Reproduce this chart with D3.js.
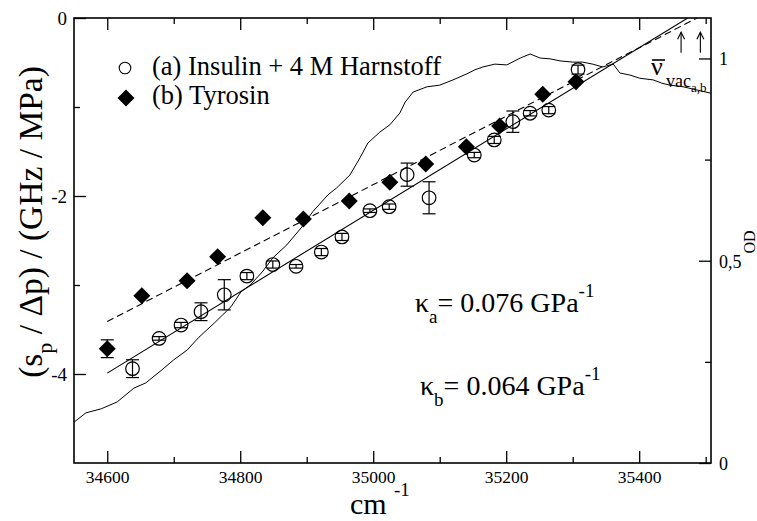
<!DOCTYPE html>
<html><head><meta charset="utf-8">
<script src="https://cdn.jsdelivr.net/npm/d3@7"></script>
<style>
body{margin:0;background:#fff}
svg{display:block}
</style>
</head><body>
<svg id="c" width="757" height="521"></svg>
<script>
const FF = "'Liberation Serif', 'Times New Roman', Times, 'DejaVu Serif', serif";
// ---- data ----
const aX   = [34638,34678,34711,34741,34776,34810,34849,34884,34922,34953,34995,35024,35051,35084,35152,35182,35210,35236,35264,35308];
const aY   = [-3.94,-3.60,-3.45,-3.30,-3.11,-2.90,-2.77,-2.79,-2.63,-2.46,-2.165,-2.12,-1.76,-2.02,-1.54,-1.37,-1.165,-1.07,-1.035,-0.58];
const aErr = [0.10,0.02,0.03,0.10,0.17,0.04,0.04,0.02,0.04,0.04,0.02,0.03,0.13,0.18,0.03,0.04,0.12,0.03,0.04,0.05];
const bX   = [34600,34652,34720,34766,34834,34895,34964,35025,35079,35140,35190,35255,35305];
const bY   = [-3.716,-3.12,-2.952,-2.682,-2.244,-2.258,-2.056,-1.846,-1.64,-1.446,-1.213,-0.857,-0.716];
const bErr = [0.10,0,0,0,0,0,0,0,0,0,0,0,0];
const fitAx = [34600,35473], fitAy = [-3.99,0];
const fitBx = [34600,35487], fitBy = [-3.41,0];
const odX = [34550,34568,34591,34615,34640,34658,34682,34700,34720,34738,34761,34786,34801,34815,34833,34849,34870,34893,34909,34932,34945,34965,34980,34992,35010,35025,35040,35048,35060,35081,35100,35120,35141,35153,35165,35183,35201,35221,35236,35251,35266,35281,35300,35315,35330,35345,35361,35371,35386,35401,35421,35434,35446,35466,35487,35508];
const odY = [0.101,0.124,0.134,0.151,0.185,0.198,0.230,0.255,0.279,0.311,0.346,0.386,0.423,0.440,0.472,0.507,0.539,0.584,0.621,0.663,0.680,0.712,0.754,0.791,0.818,0.836,0.865,0.892,0.917,0.930,0.934,0.947,0.962,0.972,0.979,0.986,0.984,1.001,1.011,1.001,0.999,0.994,0.991,0.991,0.986,0.979,0.986,0.964,0.959,0.951,0.947,0.939,0.934,0.930,0.922,0.914];
const vacX = [35463,35492];
const vacArrowY = [-0.39,-0.16];
const xMajor = [34600,34800,35000,35200,35400];
const xMinor = [34700,34900,35100,35300,35500];
const yMajor = [0,-2,-4];
const yMinor = [-1,-3];
const odMajor = [0,0.5,1];
const odLabels = ["0","0,5","1"];
const odMinor = [0.25,0.75];
const legendA = "(a) Insulin + 4 M Harnstoff";
const legendB = "(b) Tyrosin";

// ---- layout ----
const L=74,R=711,T=18,B=463;
const svg = d3.select("#c");
const x = d3.scaleLinear().domain([34550,35508]).range([L,R]);
const y = d3.scaleLinear().domain([-5,0]).range([B,T]);
const yOD = d3.scaleLinear().domain([0,1.1]).range([B,T]);

svg.append("defs").append("clipPath").attr("id","clip")
  .append("rect").attr("x",L).attr("y",T).attr("width",R-L).attr("height",B-T);

function styleAxis(g){ g.attr("font-family",FF); g.select(".domain").remove(); g.selectAll("line").attr("stroke","#000").attr("stroke-width",1.3); g.selectAll("text").attr("font-family",FF).attr("fill","#000"); }
svg.append("g").attr("transform",`translate(0,${B})`)
  .call(d3.axisBottom(x).tickValues(xMajor).tickSize(-12).tickFormat(d=>String(d)))
  .call(styleAxis).call(g=>g.selectAll("text").attr("y",20).attr("dy",null).attr("font-size",17.5));
svg.append("g").attr("transform",`translate(0,${B})`)
  .call(d3.axisBottom(x).tickValues(xMinor).tickSize(-6).tickFormat("")).call(styleAxis);
svg.append("g").attr("transform",`translate(0,${T})`)
  .call(d3.axisTop(x).tickValues(xMajor).tickSize(-12).tickFormat("")).call(styleAxis);
svg.append("g").attr("transform",`translate(0,${T})`)
  .call(d3.axisTop(x).tickValues(xMinor).tickSize(-6).tickFormat("")).call(styleAxis);
svg.append("g").attr("transform",`translate(${L},0)`)
  .call(d3.axisLeft(y).tickValues(yMajor).tickSize(-12).tickFormat(d=>String(d)))
  .call(styleAxis).call(g=>g.selectAll("text").attr("x",-7).attr("dy","0.35em").attr("font-size",19));
svg.append("g").attr("transform",`translate(${L},0)`)
  .call(d3.axisLeft(y).tickValues(yMinor).tickSize(-6).tickFormat("")).call(styleAxis);
svg.append("g").attr("transform",`translate(${R},0)`)
  .call(d3.axisRight(yOD).tickValues(odMajor).tickSize(-12).tickFormat((d,i)=>odLabels[i]))
  .call(styleAxis).call(g=>g.selectAll("text").attr("x",8).attr("dy","0.35em").attr("font-size",18));
svg.append("g").attr("transform",`translate(${R},0)`)
  .call(d3.axisRight(yOD).tickValues(odMinor).tickSize(-6).tickFormat("")).call(styleAxis);

svg.append("rect").attr("x",L).attr("y",T).attr("width",R-L).attr("height",B-T)
  .attr("fill","none").attr("stroke","#000").attr("stroke-width",1.6);

const plot = svg.append("g").attr("clip-path","url(#clip)");
plot.append("path").datum(odX.map((v,i)=>[v,odY[i]]))
  .attr("d",d3.line().x(d=>x(d[0])).y(d=>yOD(d[1])))
  .attr("fill","none").attr("stroke","#000").attr("stroke-width",1);
plot.append("path").datum(fitAx.map((v,i)=>[v,fitAy[i]]))
  .attr("d",d3.line().x(d=>x(d[0])).y(d=>y(d[1])))
  .attr("fill","none").attr("stroke","#000").attr("stroke-width",1.1);
plot.append("path").datum(fitBx.map((v,i)=>[v,fitBy[i]]))
  .attr("d",d3.line().x(d=>x(d[0])).y(d=>y(d[1])))
  .attr("fill","none").attr("stroke","#000").attr("stroke-width",1.1).attr("stroke-dasharray","7,4");

function errBars(xs,ys,es){
  const g = svg.append("g").attr("stroke","#000").attr("stroke-width",1.2);
  xs.forEach((v,i)=>{
    if(!es[i]) return;
    const cx=x(v), y1=y(ys[i]-es[i]), y2=y(ys[i]+es[i]);
    g.append("line").attr("x1",cx).attr("x2",cx).attr("y1",y1).attr("y2",y2);
    g.append("line").attr("x1",cx-6.5).attr("x2",cx+6.5).attr("y1",y1).attr("y2",y1);
    g.append("line").attr("x1",cx-6.5).attr("x2",cx+6.5).attr("y1",y2).attr("y2",y2);
  });
}
errBars(aX,aY,aErr);
errBars(bX,bY,bErr);
svg.append("g").selectAll("circle").data(aX).join("circle")
  .attr("cx",d=>x(d)).attr("cy",(d,i)=>y(aY[i])).attr("r",6.8)
  .attr("fill","none").attr("stroke","#000").attr("stroke-width",1.2);
const dia = s=>`M0,${-s}L${s},0L0,${s}L${-s},0Z`;
svg.append("g").selectAll("path").data(bX).join("path")
  .attr("transform",(d,i)=>`translate(${x(d)},${y(bY[i])})`).attr("d",dia(8.5)).attr("fill","#000");

const txt = (xp,yp,size)=>svg.append("text").attr("x",xp).attr("y",yp).attr("font-size",size).attr("font-family",FF).attr("fill","#000");

svg.append("circle").attr("cx",125).attr("cy",68).attr("r",5.8).attr("fill","none").attr("stroke","#000").attr("stroke-width",1.1);
svg.append("path").attr("transform","translate(126,98)").attr("d",dia(8.5)).attr("fill","#000");
txt(152,75,26.5).text(legendA);
txt(152,104,26.5).text(legendB);

function kappa(xp,yp,sub,val){
  const t = txt(xp,yp,28);
  t.append("tspan").text("κ");
  t.append("tspan").attr("dy",11).attr("font-size",19).text(sub);
  t.append("tspan").attr("dy",-11).text("= "+val+" GPa");
  t.append("tspan").attr("dy",-15).attr("font-size",19).text("-1");
}
kappa(415,312,"a","0.076");
kappa(420,395,"b","0.064");

const ag = svg.append("g").attr("stroke","#000").attr("stroke-width",1.1).attr("fill","none");
vacX.forEach(v=>{
  const cx=x(v), yt=y(vacArrowY[1]), yb=y(vacArrowY[0]);
  ag.append("line").attr("x1",cx).attr("x2",cx).attr("y1",yt).attr("y2",yb);
  ag.append("path").attr("d",`M${cx-3.5},${yt+7}L${cx},${yt}L${cx+3.5},${yt+7}`);
});
txt(651,75,26).text("ν");
svg.append("line").attr("x1",652).attr("x2",665).attr("y1",60).attr("y2",60).attr("stroke","#000").attr("stroke-width",1.6);
txt(666,87,18).text("vac");
txt(691,92,13).text("a,b");

txt(350,514,30).text("cm");
txt(394,496,19).text("-1");
const yt = svg.append("text").attr("transform","translate(42,222) rotate(-90)").attr("text-anchor","middle").attr("font-size",33.5).attr("font-family",FF).attr("fill","#000");
yt.append("tspan").text("(s");
yt.append("tspan").attr("dy",10).attr("font-size",22).text("p");
yt.append("tspan").attr("dy",-10).text(" / Δp) / (GHz / MPa)");
svg.append("text").attr("transform","translate(755,242) rotate(-90)").attr("text-anchor","middle").attr("font-size",16).attr("font-family",FF).attr("fill","#000").text("OD");
</script>
</body></html>
